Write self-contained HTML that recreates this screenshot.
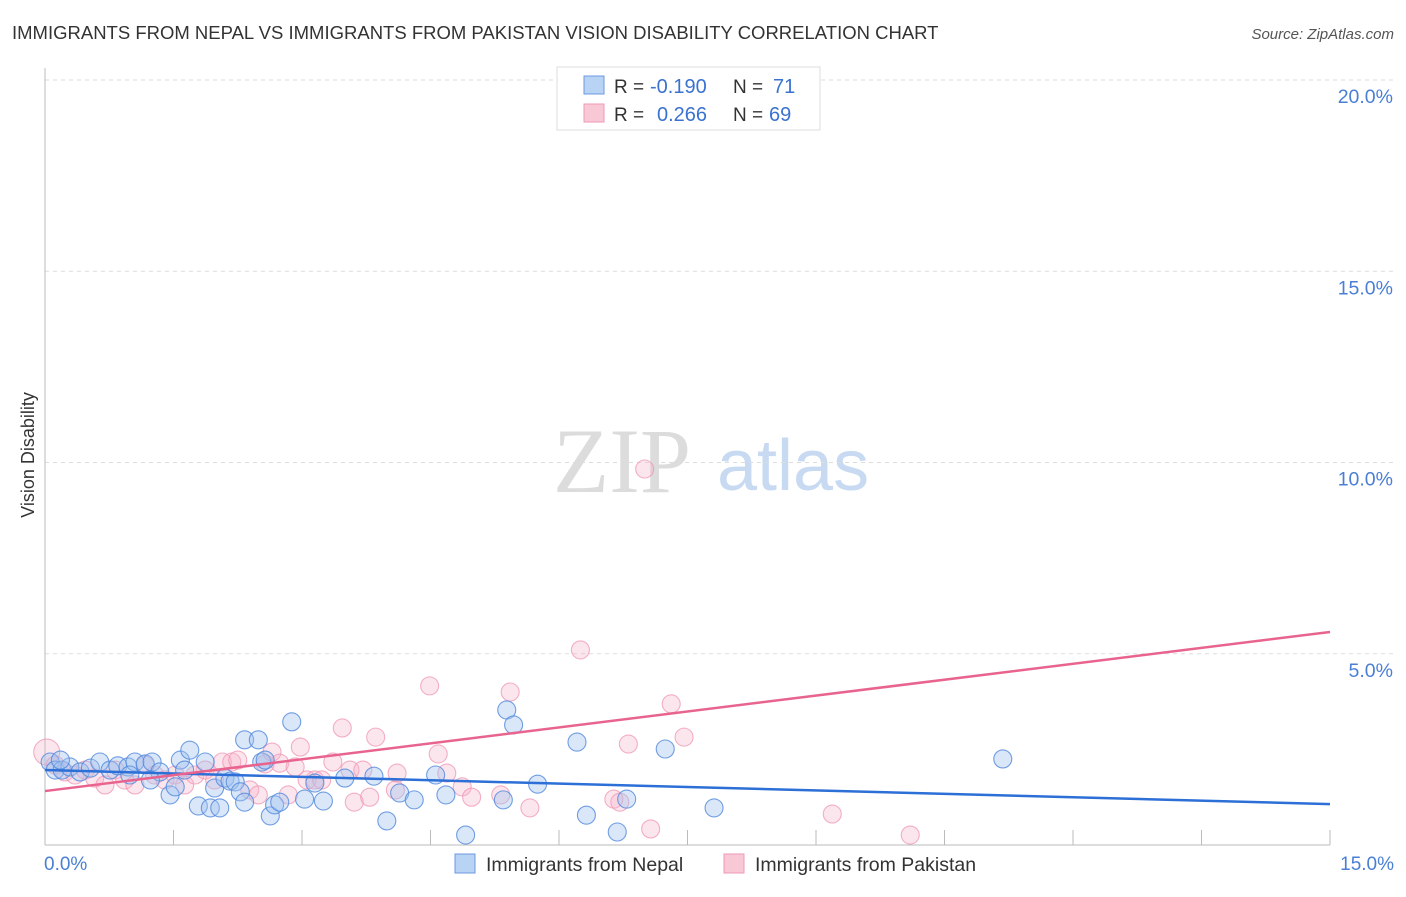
<!DOCTYPE html>
<html><head><meta charset="utf-8"><style>
body{margin:0;background:#fff;font-family:"Liberation Sans",sans-serif}
</style></head><body>
<svg id="chart" width="1406" height="892" xmlns="http://www.w3.org/2000/svg" font-family="Liberation Sans, sans-serif">
<text x="12" y="39" font-size="18.5" fill="#333">IMMIGRANTS FROM NEPAL VS IMMIGRANTS FROM PAKISTAN VISION DISABILITY CORRELATION CHART</text>
<text x="1394" y="39" font-size="15" fill="#555" font-style="italic" text-anchor="end">Source: ZipAtlas.com</text>
<g>
<text x="553" y="492" font-size="92" font-family="Liberation Serif, serif" fill="#dcdcdc">ZIP</text>
<text x="717" y="490" font-size="72" fill="#c8daf2">atlas</text>
</g>
<g id="grid"></g>
<g id="axes"></g>
<g id="pts"></g>
<g id="lines"></g>
<text transform="translate(34,455) rotate(-90)" font-size="18" fill="#333" text-anchor="middle">Vision Disability</text>
<g>
<rect x="557" y="67" width="263" height="63" fill="#fff" stroke="#ddd"/>
<rect x="584" y="76" width="20" height="18" fill="#b9d3f5" stroke="#6d9ae0"/>
<rect x="584" y="104" width="20" height="18" fill="#f9c8d7" stroke="#ef9ab5"/>
<text x="614" y="93" font-size="19" fill="#333">R =</text>
<text x="650" y="93" font-size="20" fill="#3a72d0">-0.190</text>
<text x="733" y="93" font-size="19" fill="#333">N =</text>
<text x="773" y="93" font-size="20" fill="#3a72d0">71</text>
<text x="614" y="121" font-size="19" fill="#333">R =</text>
<text x="657" y="121" font-size="20" fill="#3a72d0">0.266</text>
<text x="733" y="121" font-size="19" fill="#333">N =</text>
<text x="769" y="121" font-size="20" fill="#3a72d0">69</text>
</g>
<g>
<rect x="455" y="854" width="20" height="19" fill="#b9d3f5" stroke="#6d9ae0"/>
<text x="486" y="871" font-size="19.5" fill="#333">Immigrants from Nepal</text>
<rect x="724" y="854" width="20" height="19" fill="#f9c8d7" stroke="#ef9ab5"/>
<text x="755" y="871" font-size="19.5" fill="#333">Immigrants from Pakistan</text>
</g>
</svg>
<script>
const nepalX=[0.06,0.12,0.20,0.29,0.41,0.53,0.64,0.76,0.85,0.97,1.05,1.17,1.25,1.34,1.46,1.52,1.58,1.63,1.69,1.79,1.87,1.93,1.98,2.04,2.10,2.16,2.22,2.28,2.33,2.33,2.49,2.53,2.63,2.68,2.74,2.88,3.03,3.15,3.25,3.50,3.84,3.99,4.14,4.31,4.56,4.68,4.91,5.35,5.39,5.47,5.75,6.21,6.32,6.68,6.79,7.24,7.81,11.18,2.57,1.23,0.99,0.18];
const nepalY=[2.17,1.96,1.96,2.04,1.91,2.01,2.17,1.96,2.07,2.04,2.17,2.12,2.17,1.91,1.31,1.52,2.22,1.96,2.48,1.02,2.17,0.97,1.49,0.97,1.75,1.67,1.65,1.39,2.75,1.12,2.75,2.17,0.76,1.05,1.12,3.22,1.20,1.62,1.15,1.75,1.80,0.63,1.36,1.18,1.83,1.31,0.26,1.18,3.53,3.14,1.59,2.69,0.78,0.34,1.20,2.51,0.97,2.25,2.22,1.70,1.83,2.22];
const pakX=[0.02,0.12,0.23,0.35,0.47,0.58,0.70,0.82,0.93,1.05,1.17,1.28,1.40,1.52,1.63,1.75,1.87,1.98,2.07,2.18,2.25,2.39,2.49,2.57,2.65,2.74,2.84,2.92,2.98,3.06,3.15,3.23,3.36,3.47,3.56,3.61,3.71,3.79,3.86,4.09,4.11,4.49,4.59,4.69,4.87,4.98,5.32,5.43,5.66,6.25,6.64,6.71,6.81,7.00,7.07,7.31,7.46,9.19,10.10];
const pakY=[2.43,2.09,1.91,1.83,1.96,1.75,1.57,1.96,1.70,1.57,2.09,1.83,1.70,1.83,1.57,1.83,1.96,1.70,2.17,2.17,2.22,1.44,1.31,2.12,2.43,2.14,1.31,2.04,2.56,1.70,1.70,1.70,2.17,3.06,1.96,1.12,1.96,1.25,2.82,1.44,1.88,4.16,2.38,1.88,1.52,1.25,1.31,4.00,0.97,5.10,1.20,1.12,2.64,9.83,0.42,3.69,2.82,0.81,0.26];
const trendX=[0,15];
const nepalTrend=[1.96,1.07];
const pakTrend=[1.41,5.57];
const yTicks=[5,10,15,20];
const yTickLabels=["5.0%","10.0%","15.0%","20.0%"];
const xTicks=[0,1.5,3,4.5,6,7.5,9,10.5,12,13.5,15];

const NS="http://www.w3.org/2000/svg";
const X0=45,X1=1330,YB=845,YT=80;
const sx=v=>X0+(v/15)*(X1-X0);
const sy=v=>YB-(v/20)*(YB-YT);
function mk(tag,attrs,parent){const e=document.createElementNS(NS,tag);for(const k in attrs)e.setAttribute(k,attrs[k]);document.getElementById(parent).appendChild(e);return e;}

yTicks.forEach((t,i)=>{
  const g=mk('line',{x1:X0,x2:1394,y1:sy(t),y2:sy(t),stroke:'#ddd','stroke-dasharray':'4,4'},'grid');
  
  
  const l=mk('text',{x:1393,y:sy(t)+23,'font-size':19.5,fill:'#4a7fd4','text-anchor':'end'},'grid');
  l.textContent=yTickLabels[i];
  
  
});
const ax=mk('line',{x1:X0,x2:X0,y1:68,y2:YB,stroke:'#bbb'},'axes');


const bx=mk('line',{x1:X0,x2:X1,y1:YB,y2:YB,stroke:'#bbb'},'axes');


xTicks.forEach(t=>{
  const tk=mk('line',{x1:sx(t),x2:sx(t),y1:YB-15,y2:YB,stroke:'#bbb'},'axes');
  
  
});
const xl0=mk('text',{x:44,y:870,'font-size':19,fill:'#4a7fd4'},'axes');xl0.textContent='0.0%';


const xl1=mk('text',{x:1394,y:870,'font-size':19,fill:'#4a7fd4','text-anchor':'end'},'axes');xl1.textContent='15.0%';



pakX.forEach((x,i)=>{
  const c=mk('circle',{cx:sx(x),cy:sy(pakY[i]),r:i===0?13:9,fill:'rgba(246,178,200,0.32)',stroke:'rgba(239,150,180,0.75)','stroke-width':1.1},'pts');
  
  
});
nepalX.forEach((x,i)=>{
  const c=mk('circle',{cx:sx(x),cy:sy(nepalY[i]),r:9,fill:'rgba(160,196,240,0.4)',stroke:'rgba(80,135,220,0.8)','stroke-width':1.1},'pts');
  
  
});
const tn=mk('line',{x1:sx(trendX[0]),x2:sx(trendX[1]),y1:sy(nepalTrend[0]),y2:sy(nepalTrend[1]),stroke:'#2c6fd6','stroke-width':2.5},'lines');


const tp=mk('line',{x1:sx(trendX[0]),x2:sx(trendX[1]),y1:sy(pakTrend[0]),y2:sy(pakTrend[1]),stroke:'#e8648e','stroke-width':2.5},'lines');


</script>
</body></html>
